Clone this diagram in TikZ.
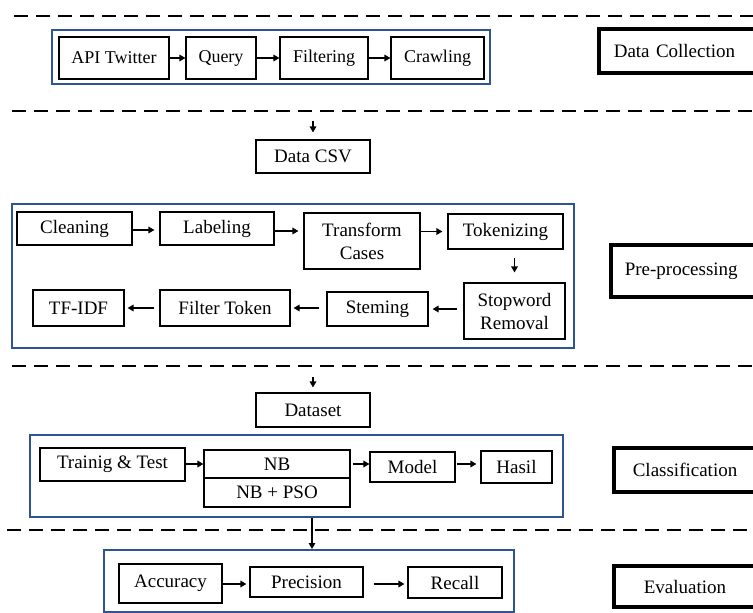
\documentclass[tikz,border=0pt]{standalone}
\usepackage{fontspec}
\setmainfont{Liberation Serif}
\usetikzlibrary{arrows.meta}
\definecolor{frameblue}{HTML}{2F5496}
\begin{document}
\begin{tikzpicture}[x=1pt,y=-1pt,
  box/.style={draw, line width=1.1pt, inner sep=0pt, align=center, font=\fontsize{19}{23}\selectfont},
  topbox/.style={box, font=\fontsize{18}{22}\selectfont},
  group/.style={draw=frameblue, line width=2pt, inner sep=0pt},
  lab/.style={draw, line width=3.6pt, inner ysep=0pt, anchor=west, align=left, font=\fontsize{19}{23}\selectfont},
  arr/.style={line width=1.5pt, -{Triangle[length=6pt,width=6.5pt]}},
  sep/.style={line width=2.6pt, dash pattern=on 14pt off 8pt}]
\useasboundingbox (0,0) rectangle (753,613);
\fill[white] (0,0) rectangle (753,613);
\clip (0,0) rectangle (753,613);

% separators
\draw[sep] (14,16) -- (770,16);
\draw[sep] (12,111) -- (770,111);
\draw[sep] (12,366) -- (770,366);
\draw[sep] (7,530) -- (770,530);

% ---------- Data Collection ----------
\node[group, minimum width=438pt, minimum height=54pt] (dcbox) at (271,57) {};
\node[topbox, minimum width=110pt, minimum height=42pt] (api) at (114,58) {API Twitter};
\node[topbox, minimum width=70pt, minimum height=42pt] (query) at (221,58) {Query};
\node[topbox, minimum width=88pt, minimum height=42pt] (filt) at (324,58) {Filtering};
\node[topbox, minimum width=93pt, minimum height=42pt] (crawl) at (437.5,58) {Crawling};
\draw[arr] (api) -- (query);
\draw[arr] (query) -- (filt);
\draw[arr] (filt) -- (crawl);
\node[lab, minimum height=44pt, inner xsep=15pt, text width=150pt] (dclab) at (597,51) {Data Collection};

% ---------- Data CSV ----------
\coordinate (c1) at (313,121);
\node[box, minimum width=114pt, minimum height=33pt] (csv) at (313,156.5) {Data CSV};
\draw[arr, shorten >=7pt] (c1) -- (csv.north);

% ---------- Pre-processing ----------
\node[group, minimum width=562pt, minimum height=144pt] (prebox) at (293,276) {};
\node[box, minimum width=115pt, minimum height=33pt] (clean) at (74.5,228.5) {Cleaning};
\node[box, minimum width=114pt, minimum height=33pt] (label) at (217,228.5) {Labeling};
\node[box, minimum width=116pt, minimum height=56pt] (trans) at (362,241) {Transform\\Cases};
\node[box, minimum width=115pt, minimum height=35pt] (token) at (505.5,231.5) {Tokenizing};
\node[box, minimum width=101pt, minimum height=56pt] (stop) at (514.5,311) {Stopword\\Removal};
\node[box, minimum width=101pt, minimum height=34pt] (stem) at (377.5,309) {Steming};
\node[box, minimum width=130pt, minimum height=36pt] (ftok) at (225,308) {Filter Token};
\node[box, minimum width=91pt, minimum height=36pt] (tfidf) at (78.5,308) {TF-IDF};
\draw[arr, shorten >=5pt] (clean.east |- 0,230) -- (label.west |- 0,230);
\draw[arr, shorten >=5pt] (label.east |- 0,231) -- (trans.west |- 0,231);
\draw[arr, shorten >=5pt] (trans.east |- token) -- (token.west);
\draw[arr, shorten <=8pt, shorten >=10pt] (token.south -| stop) -- (stop.north);
\draw[arr, shorten <=6pt, shorten >=4pt] (stop.west |- stem) -- (stem.east);
\draw[arr, shorten <=7pt, shorten >=3pt] (stem.west |- ftok) -- (ftok.east);
\draw[arr, shorten <=5pt, shorten >=3pt] (ftok.west) -- (tfidf.east);
\node[lab, minimum height=52pt, inner xsep=14pt, text width=150pt] (prelab) at (609,271) {Pre-processing};

% ---------- Dataset ----------
\coordinate (c2) at (313,377);
\node[box, minimum width=114pt, minimum height=34pt] (dataset) at (313,410) {Dataset};
\draw[arr, shorten >=5pt] (c2) -- (dataset.north);

% ---------- Classification ----------
\node[group, minimum width=533pt, minimum height=82pt] (clbox) at (296.5,476) {};
\node[box, minimum width=145pt, minimum height=33pt] (train) at (112.5,464.5) {Trainig \& Test};
\node[box, minimum width=146pt, minimum height=28pt] (nb) at (277,464) {NB};
\node[box, minimum width=146pt, minimum height=29pt] (nbpso) at (277,492.5) {NB + PSO};
\node[box, minimum width=85pt, minimum height=30pt] (model) at (412.5,467) {Model};
\node[box, minimum width=71pt, minimum height=32pt] (hasil) at (516.5,467) {Hasil};
\draw[arr] (train.east |- nb) -- (nb.west);
\draw[arr, shorten <=2pt] (nb.east) -- (model.west |- nb);
\draw[arr, shorten <=1pt, shorten >=4pt] (model.east |- nb) -- (hasil.west |- nb);
\node[lab, minimum height=44pt, inner xsep=19pt, text width=150pt] (cllab) at (612,470) {Classification};

% ---------- Evaluation ----------
\node[group, minimum width=410pt, minimum height=62pt] (evbox) at (309,581) {};
\node[box, minimum width=103pt, minimum height=39pt] (acc) at (170.5,583.5) {Accuracy};
\node[box, minimum width=113pt, minimum height=30pt] (prec) at (306.5,582) {Precision};
\node[box, minimum width=94pt, minimum height=31pt] (rec) at (455,582.5) {Recall};
\draw[arr, shorten >=3pt] (acc.east |- 0,584) -- (prec.west |- 0,584);
\draw[arr, shorten <=10pt, shorten >=3pt] (prec.east |- 0,584) -- (rec.west |- 0,584);
\node[lab, minimum height=41pt, inner xsep=30pt, text width=130pt] (evlab) at (612,586.5) {Evaluation};

\coordinate (xa) at (312,0);
\draw[arr] (clbox.south -| xa) -- (evbox.north -| xa);
\end{tikzpicture}
\end{document}
